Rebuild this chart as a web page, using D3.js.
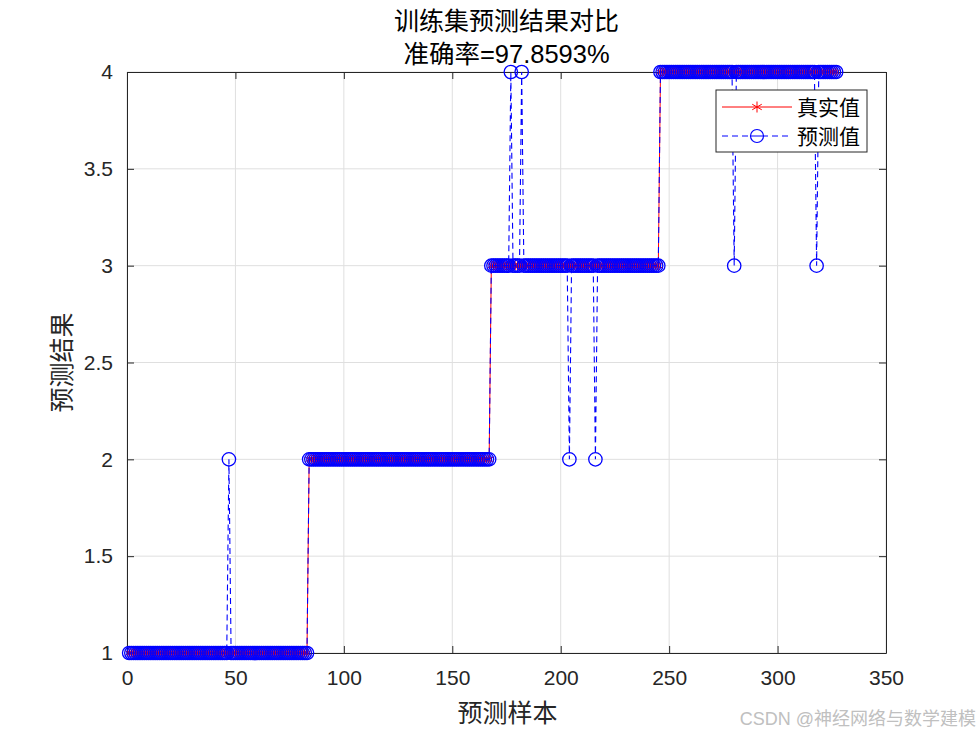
<!DOCTYPE html>
<html><head><meta charset="utf-8">
<script src="https://cdn.jsdelivr.net/npm/d3@7"></script>
<style>
html,body{margin:0;padding:0;background:#fff;}
text{font-family:"Liberation Sans","Noto Sans CJK SC",sans-serif;}
</style></head>
<body><svg id="chart" width="980" height="735"></svg>
<script>
// ---- data ----
const titleLines = ["训练集预测结果对比", "准确率=97.8593%"];
const xLabel = "预测样本";
const yLabel = "预测结果";
const legendLabels = ["真实值", "预测值"];
const xTicks = [0, 50, 100, 150, 200, 250, 300, 350];
const yTicks = [1, 1.5, 2, 2.5, 3, 3.5, 4];
// true class runs: [class, number of samples]
const truthRuns = [[1, 83], [2, 84], [3, 78], [4, 82]];
// misclassified samples: [sample index, predicted class]
const errorSamples = [[47, 2], [177, 4], [182, 4], [204, 2], [216, 2], [280, 3], [318, 3]];

const truth = [];
truthRuns.forEach(([c, n]) => { for (let k = 0; k < n; k++) truth.push(c); });
const errMap = new Map(errorSamples);
const samples = truth.map((v, i) => ({ x: i + 1, t: v, p: errMap.has(i + 1) ? errMap.get(i + 1) : v }));

// ---- layout ----
const svg = d3.select("#chart");
const L = 127, R = 886, T = 72, B = 653;
const x = d3.scaleLinear().domain([0, 350]).range([L, R]);
const y = d3.scaleLinear().domain([1, 4]).range([B, T]);
const axisColor = "#262626";

// grid
const g = svg.append("g");
g.selectAll(".gx").data(xTicks).join("line")
  .attr("x1", d => x(d)).attr("x2", d => x(d)).attr("y1", T).attr("y2", B)
  .attr("stroke", "#dfdfdf").attr("stroke-width", 1);
g.selectAll(".gy").data(yTicks).join("line")
  .attr("x1", L).attr("x2", R).attr("y1", d => y(d)).attr("y2", d => y(d))
  .attr("stroke", "#dfdfdf").attr("stroke-width", 1);

// axes (ticks inside, box on)
const fontSize = 21;
const axB = d3.axisBottom(x).tickValues(xTicks).tickSizeInner(-7).tickSizeOuter(0).tickPadding(17);
const axL = d3.axisLeft(y).tickValues(yTicks).tickSizeInner(-7).tickSizeOuter(0).tickPadding(14).tickFormat(d3.format("~g"));
const axT = d3.axisTop(x).tickValues(xTicks).tickSizeInner(-7).tickSizeOuter(0).tickFormat("");
const axR = d3.axisRight(y).tickValues(yTicks).tickSizeInner(-7).tickSizeOuter(0).tickFormat("");
function styleAxis(sel) {
  sel.selectAll("path").attr("stroke", axisColor).attr("stroke-width", 1);
  sel.selectAll("line").attr("stroke", axisColor);
  sel.selectAll("text").attr("fill", axisColor).style("font-size", fontSize + "px")
    .style("font-family", "'Liberation Sans',Arial,sans-serif");
}
svg.append("g").attr("transform", `translate(0,${B})`).call(axB).call(styleAxis);
svg.append("g").attr("transform", `translate(${L},0)`).call(axL).call(styleAxis);
svg.append("g").attr("transform", `translate(0,${T})`).call(axT).call(styleAxis);
svg.append("g").attr("transform", `translate(${R},0)`).call(axR).call(styleAxis);

// true line (red, solid, asterisks)
svg.append("path").datum(samples)
  .attr("d", d3.line().x(d => x(d.x)).y(d => y(d.t)))
  .attr("fill", "none").attr("stroke", "#ff0000").attr("stroke-width", 1);
function star(sel, cx, cy, s, color) {
  const gg = sel.append("g").attr("stroke", color).attr("stroke-width", 1);
  [0, 60, 120].forEach(a => {
    const r = a * Math.PI / 180;
    gg.append("line").attr("x1", cx - s * Math.sin(r)).attr("y1", cy - s * Math.cos(r))
      .attr("x2", cx + s * Math.sin(r)).attr("y2", cy + s * Math.cos(r));
  });
}
const starsG = svg.append("g");
samples.forEach(d => star(starsG, x(d.x), y(d.t), 4.5, "#ff0000"));

// predicted line (blue, dashed, circles)
svg.append("path").datum(samples)
  .attr("d", d3.line().x(d => x(d.x)).y(d => y(d.p)))
  .attr("fill", "none").attr("stroke", "#0000ff").attr("stroke-width", 1.1)
  .attr("stroke-dasharray", "6,4");
svg.append("g").selectAll("circle").data(samples).join("circle")
  .attr("cx", d => x(d.x)).attr("cy", d => y(d.p)).attr("r", 6.7)
  .attr("fill", "none").attr("stroke", "#0000ff").attr("stroke-width", 1.3);

// titles
const cx = (L + R) / 2;
svg.append("text").attr("x", cx).attr("y", 30).attr("text-anchor", "middle")
  .style("font-size", "25px").attr("fill", "#000").text(titleLines[0]);
svg.append("text").attr("x", cx).attr("y", 63).attr("text-anchor", "middle")
  .style("font-size", "25.5px").attr("fill", "#000").text(titleLines[1]);
svg.append("text").attr("x", cx + 1).attr("y", 722).attr("text-anchor", "middle")
  .style("font-size", "25px").attr("fill", axisColor).text(xLabel);
svg.append("text").attr("transform", `translate(71,${(T + B) / 2}) rotate(-90)`)
  .attr("text-anchor", "middle").style("font-size", "25px").attr("fill", axisColor).text(yLabel);

// legend
const lg = svg.append("g");
lg.append("rect").attr("x", 716).attr("y", 90).attr("width", 151).attr("height", 62)
  .attr("fill", "#fff").attr("stroke", "#262626").attr("stroke-width", 1);
const rows = [107, 136];
lg.append("line").attr("x1", 722).attr("x2", 792).attr("y1", rows[0]).attr("y2", rows[0])
  .attr("stroke", "#ff0000").attr("stroke-width", 1);
star(lg, 757, rows[0], 5.5, "#ff0000");
lg.append("line").attr("x1", 722).attr("x2", 792).attr("y1", rows[1]).attr("y2", rows[1])
  .attr("stroke", "#0000ff").attr("stroke-width", 1).attr("stroke-dasharray", "6,4");
lg.append("circle").attr("cx", 757).attr("cy", rows[1]).attr("r", 6.5)
  .attr("fill", "#fff").attr("stroke", "#0000ff").attr("stroke-width", 1.2);
lg.append("line").attr("x1", 751).attr("x2", 763).attr("y1", rows[1]).attr("y2", rows[1]).attr("stroke", "#0000ff");
legendLabels.forEach((t, i) => lg.append("text").attr("x", 797).attr("y", rows[i] + 8)
  .style("font-size", "21px").attr("fill", "#000").text(t));

// watermark
svg.append("text").attr("x", 976).attr("y", 725).attr("text-anchor", "end")
  .style("font-size", "18px").attr("fill", "#c0c0c0").text("CSDN @神经网络与数学建模");
</script></body></html>
